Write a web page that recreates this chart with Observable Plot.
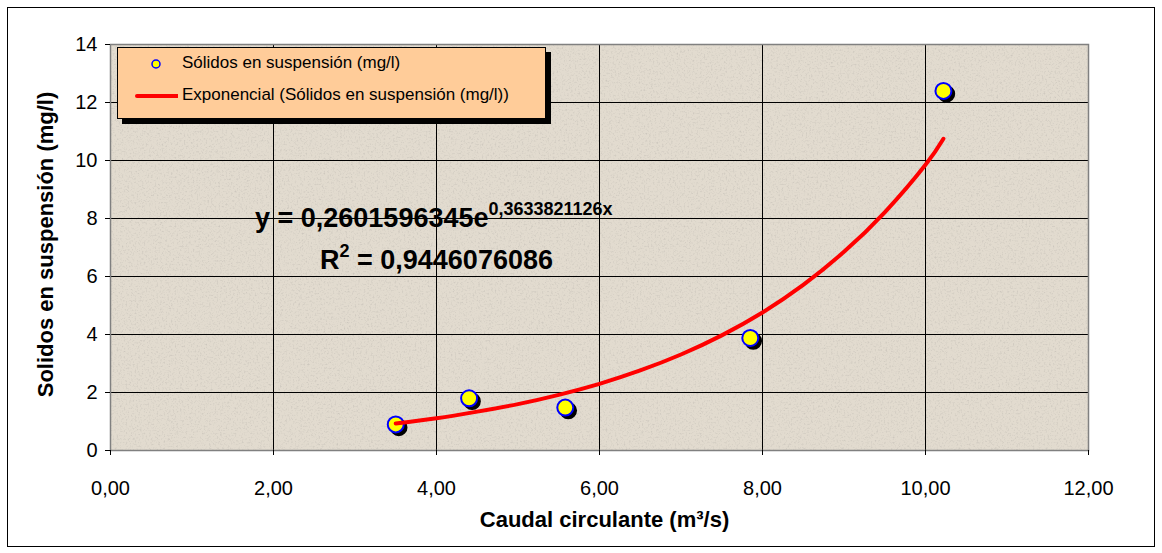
<!DOCTYPE html>
<html>
<head>
<meta charset="utf-8">
<script src="https://cdn.jsdelivr.net/npm/d3@7"></script>
<script src="https://cdn.jsdelivr.net/npm/@observablehq/plot@0.6"></script>
<style>
  html, body { margin: 0; padding: 0; background: #ffffff; }
  body { width: 1162px; height: 553px; position: relative; overflow: hidden; font-family: "Liberation Sans", Arial, sans-serif; }
  #chart { position: absolute; left: 0; top: 0; }
  #outer { position: absolute; left: 7px; top: 7px; width: 1146px; height: 538px; border: 1px solid #000; pointer-events: none; }
  #legend { position: absolute; left: 117px; top: 47px; width: 427px; height: 70px; background: #ffcc99; border: 1px solid #000; box-shadow: 5px 5px 0 #000; color: #000; }
  .litem { position: absolute; left: 64px; font-size: 17px; line-height: 20px; white-space: nowrap; }
  .eq { position: absolute; font-weight: bold; color: #000; white-space: nowrap; line-height: 1; }
  .sup { position: relative; font-size: 18px; }
</style>
</head>
<body>
<div id="chart"></div>
<div id="outer"></div>
<div id="legend">
  <svg width="60" height="70" style="position:absolute;left:0;top:0">
    <circle cx="38" cy="16" r="4" fill="#ffff00" stroke="#0000ff" stroke-width="1.5"></circle>
    <line x1="19" y1="48" x2="60" y2="48" stroke="#ff0000" stroke-width="4" stroke-linecap="round"></line>
  </svg>
  <div class="litem" id="l1" style="top:5px"></div>
  <div class="litem" id="l2" style="top:37px"></div>
</div>
<div class="eq" id="eq1" style="left:255px; top:205px; font-size:27px;"></div>
<div class="eq" id="eq2" style="left:320px; top:247px; font-size:27px;"></div>
<script>
// ---- data ----
const caudal = [3.50, 4.40, 5.58, 7.85, 10.22];
const solidos = [0.90, 1.80, 1.48, 3.88, 12.40];
const trendX = [3.50, 4.00, 4.50, 5.00, 5.50, 6.00, 6.50, 7.00, 7.50, 8.00, 8.50, 9.00, 9.50, 10.00, 10.22];
const trendY = [0.93, 1.11, 1.34, 1.60, 1.92, 2.30, 2.76, 3.31, 3.97, 4.76, 5.71, 6.85, 8.21, 9.85, 10.75];
const xTicks = [0, 2, 4, 6, 8, 10, 12];
const yTicks = [0, 2, 4, 6, 8, 10, 12, 14];
const xTitle = "Caudal circulante (m³/s)";
const yTitle = "Solidos en suspensión (mg/l)";
const legendLabels = ["Sólidos en suspensión (mg/l)", "Exponencial (Sólidos en suspensión (mg/l))"];
const eqMain = "y = 0,2601596345e";
const eqExp = "0,3633821126x";
const r2Label = "R";
const r2Value = " = 0,9446076086";

const points = caudal.map((x, i) => ({x, y: solidos[i]}));
const trend = trendX.map((x, i) => ({x, y: trendY[i]}));
const fmt = d => d.toFixed(2).replace(".", ",");

const chart = Plot.plot({
  width: 1162,
  height: 553,
  marginLeft: 110,
  marginRight: 74,
  marginTop: 44,
  marginBottom: 103,
  style: { fontFamily: "Liberation Sans, Arial, sans-serif", fontSize: "16px", color: "#000", background: "transparent", overflow: "visible" },
  x: { domain: [0, 12] },
  y: { domain: [0, 14] },
  marks: [
    Plot.frame({ fill: "#e2dbcf" }),
    Plot.gridX(xTicks, { stroke: "#000", strokeOpacity: 1, strokeWidth: 1 }),
    Plot.gridY(yTicks, { stroke: "#000", strokeOpacity: 1, strokeWidth: 1 }),
    Plot.frame({ stroke: "#808080", strokeWidth: 1.5 }),
    Plot.axisX(xTicks, { tickSize: 5, tickFormat: () => "", label: null }),
    Plot.axisY(yTicks, { tickSize: 5, tickFormat: () => "", label: null }),
    Plot.text(xTicks, { x: d => d, frameAnchor: "bottom", dy: 38, text: fmt, fontSize: 20, lineAnchor: "middle" }),
    Plot.text(yTicks, { y: d => d, frameAnchor: "left", dx: -13, text: d => String(d), textAnchor: "end", fontSize: 20 }),
    Plot.text([xTitle], { frameAnchor: "bottom", dx: 5, dy: 76, fontWeight: "bold", fontSize: 22 }),
    Plot.text([yTitle], { frameAnchor: "left", dx: -65, dy: -3, rotate: -90, textAnchor: "middle", fontWeight: "bold", fontSize: 22 }),
    Plot.dot(points, { x: "x", y: "y", r: 8, fill: "#000", stroke: "#000", dx: 3, dy: 3 }),
    Plot.dot(points, { x: "x", y: "y", r: 8, fill: "#ffff00", stroke: "#0000ff", strokeWidth: 2 }),
    Plot.line(trend, { x: "x", y: "y", stroke: "#ff0000", strokeWidth: 4, curve: "natural", strokeLinecap: "round" })
  ]
});

// subtle paper texture on the plot background
const svg = d3.select(chart);
const defs = svg.insert("defs", ":first-child");
const f = defs.append("filter").attr("id", "tex").attr("x", 0).attr("y", 0).attr("width", 1).attr("height", 1);
f.append("feTurbulence").attr("type", "fractalNoise").attr("baseFrequency", 0.55).attr("numOctaves", 3).attr("seed", 4).attr("result", "n");
f.append("feColorMatrix").attr("in", "n").attr("type", "matrix")
  .attr("values", "0 0 0 0 0.62  0 0 0 0 0.58  0 0 0 0 0.52  2.6 0 0 0 -1.3").attr("result", "spots");
f.append("feMerge").call(m => { m.append("feMergeNode").attr("in", "SourceGraphic"); m.append("feMergeNode").attr("in", "spots"); });
svg.select('[aria-label="frame"]').attr("filter", "url(#tex)");

document.getElementById("chart").appendChild(chart);
document.getElementById("l1").textContent = legendLabels[0];
document.getElementById("l2").textContent = legendLabels[1];
const e1 = document.getElementById("eq1");
e1.appendChild(document.createTextNode(eqMain));
const s1 = document.createElement("span"); s1.className = "sup"; s1.style.top = "-12px"; s1.textContent = eqExp; e1.appendChild(s1);
const e2 = document.getElementById("eq2");
e2.appendChild(document.createTextNode(r2Label));
const s2 = document.createElement("span"); s2.className = "sup"; s2.style.top = "-12px"; s2.textContent = "2"; e2.appendChild(s2);
e2.appendChild(document.createTextNode(r2Value));
</script>
</body>
</html>
